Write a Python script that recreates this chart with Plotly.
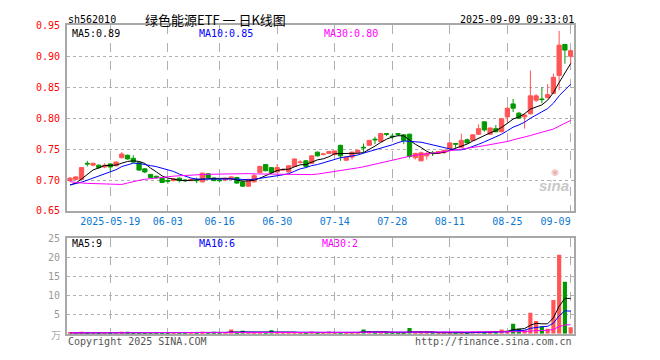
import plotly.graph_objects as go
import pandas as pd

# ---------------- data ----------------
dates = [
    "2025-05-08", "2025-05-09", "2025-05-12", "2025-05-13", "2025-05-14", "2025-05-15", "2025-05-16",
    "2025-05-19", "2025-05-20", "2025-05-21", "2025-05-22", "2025-05-23",
    "2025-05-26", "2025-05-27", "2025-05-28", "2025-05-29", "2025-05-30",
    "2025-06-03", "2025-06-04", "2025-06-05", "2025-06-06",
    "2025-06-09", "2025-06-10", "2025-06-11", "2025-06-12", "2025-06-13",
    "2025-06-16", "2025-06-17", "2025-06-18", "2025-06-19", "2025-06-20",
    "2025-06-23", "2025-06-24", "2025-06-25", "2025-06-26", "2025-06-27",
    "2025-06-30", "2025-07-01", "2025-07-02", "2025-07-03", "2025-07-04",
    "2025-07-07", "2025-07-08", "2025-07-09", "2025-07-10", "2025-07-11",
    "2025-07-14", "2025-07-15", "2025-07-16", "2025-07-17", "2025-07-18",
    "2025-07-21", "2025-07-22", "2025-07-23", "2025-07-24", "2025-07-25",
    "2025-07-28", "2025-07-29", "2025-07-30", "2025-07-31", "2025-08-01",
    "2025-08-04", "2025-08-05", "2025-08-06", "2025-08-07", "2025-08-08",
    "2025-08-11", "2025-08-12", "2025-08-13", "2025-08-14", "2025-08-15",
    "2025-08-18", "2025-08-19", "2025-08-20", "2025-08-21", "2025-08-22",
    "2025-08-25", "2025-08-26", "2025-08-27", "2025-08-28", "2025-08-29",
    "2025-09-01", "2025-09-02", "2025-09-03", "2025-09-04", "2025-09-05",
    "2025-09-08", "2025-09-09",
]

opens = [
    0.699, 0.701, 0.701, 0.727, 0.724, 0.724, 0.721, 0.726, 0.723, 0.736,
    0.740, 0.735, 0.728, 0.718, 0.709, 0.706, 0.703, 0.699, 0.699, 0.703,
    0.700, 0.699, 0.700, 0.697, 0.710, 0.703, 0.700, 0.700, 0.702, 0.704,
    0.697, 0.690, 0.697, 0.712, 0.725, 0.720, 0.713, 0.716, 0.713, 0.722,
    0.728, 0.731, 0.727, 0.745, 0.741, 0.743, 0.741, 0.756, 0.732, 0.737,
    0.744, 0.753, 0.756, 0.766, 0.762, 0.775, 0.771, 0.775, 0.773, 0.774,
    0.736, 0.731, 0.739, 0.744, 0.743, 0.744, 0.750, 0.759, 0.753, 0.765,
    0.764, 0.774, 0.794, 0.774, 0.783, 0.778, 0.802, 0.823, 0.808, 0.802,
    0.807, 0.829, 0.831, 0.833, 0.840, 0.869, 0.919, 0.900,
]
highs = [
    0.705, 0.706, 0.721, 0.731, 0.728, 0.725, 0.727, 0.727, 0.730, 0.745,
    0.741, 0.740, 0.729, 0.719, 0.710, 0.707, 0.704, 0.702, 0.703, 0.704,
    0.701, 0.702, 0.704, 0.712, 0.711, 0.704, 0.701, 0.703, 0.706, 0.705,
    0.698, 0.702, 0.710, 0.723, 0.726, 0.721, 0.726, 0.719, 0.724, 0.735,
    0.732, 0.732, 0.740, 0.746, 0.744, 0.747, 0.748, 0.757, 0.738, 0.746,
    0.749, 0.759, 0.765, 0.770, 0.776, 0.776, 0.775, 0.776, 0.774, 0.775,
    0.744, 0.746, 0.745, 0.747, 0.747, 0.749, 0.761, 0.759, 0.775, 0.767,
    0.774, 0.790, 0.795, 0.785, 0.789, 0.800, 0.819, 0.831, 0.810, 0.808,
    0.877, 0.839, 0.850, 0.855, 0.872, 0.941, 0.920, 0.911,
]
lows = [
    0.697, 0.700, 0.700, 0.722, 0.722, 0.718, 0.719, 0.714, 0.722, 0.735,
    0.733, 0.728, 0.715, 0.711, 0.703, 0.702, 0.695, 0.694, 0.698, 0.696,
    0.697, 0.698, 0.695, 0.696, 0.703, 0.698, 0.696, 0.698, 0.701, 0.694,
    0.689, 0.689, 0.696, 0.711, 0.714, 0.710, 0.712, 0.715, 0.712, 0.721,
    0.727, 0.721, 0.726, 0.738, 0.740, 0.742, 0.740, 0.731, 0.731, 0.733,
    0.743, 0.744, 0.755, 0.758, 0.761, 0.771, 0.766, 0.771, 0.758, 0.735,
    0.733, 0.730, 0.733, 0.739, 0.742, 0.743, 0.749, 0.752, 0.752, 0.759,
    0.763, 0.773, 0.778, 0.773, 0.777, 0.777, 0.793, 0.810, 0.799, 0.783,
    0.806, 0.826, 0.824, 0.832, 0.839, 0.845, 0.888, 0.887,
]
closes = [
    0.703, 0.705, 0.720, 0.726, 0.727, 0.720, 0.724, 0.721, 0.729, 0.742,
    0.734, 0.729, 0.716, 0.713, 0.704, 0.704, 0.696, 0.698, 0.702, 0.699,
    0.699, 0.701, 0.699, 0.711, 0.704, 0.699, 0.699, 0.702, 0.705, 0.695,
    0.690, 0.701, 0.707, 0.722, 0.715, 0.712, 0.720, 0.717, 0.723, 0.734,
    0.729, 0.722, 0.739, 0.739, 0.742, 0.746, 0.747, 0.739, 0.737, 0.745,
    0.748, 0.752, 0.764, 0.765, 0.775, 0.774, 0.770, 0.774, 0.764, 0.738,
    0.743, 0.744, 0.743, 0.743, 0.746, 0.748, 0.760, 0.758, 0.764, 0.760,
    0.773, 0.783, 0.781, 0.784, 0.778, 0.799, 0.816, 0.816, 0.800, 0.805,
    0.836, 0.836, 0.830, 0.838, 0.866, 0.918, 0.910, 0.909,
]
# volume, 万
volumes = [
    0.2, 0.2, 0.5, 0.2, 0.2, 0.2, 0.2, 0.2, 0.2, 0.5,
    0.5, 0.2, 0.3, 0.2, 0.2, 0.2, 0.2, 0.2, 0.2, 0.2,
    0.2, 0.2, 0.2, 0.5, 0.2, 0.5, 0.2, 0.2, 1.1, 0.3,
    0.8, 0.3, 0.3, 0.3, 0.3, 0.9, 0.3, 0.2, 0.3, 0.3,
    0.2, 0.3, 0.6, 0.3, 0.2, 0.6, 0.3, 0.4, 0.2, 0.3,
    0.3, 1.1, 0.6, 0.3, 0.3, 0.2, 0.2, 0.2, 0.3, 1.5,
    0.3, 0.3, 0.2, 0.2, 0.2, 0.2, 0.3, 0.2, 0.3, 0.2,
    0.6, 0.6, 0.3, 0.3, 0.6, 1.1, 0.8, 2.6, 1.3, 0.9,
    5.5, 3.3, 1.9, 1.3, 8.8, 20.6, 13.6, 1.7,
]
# estimated sessions before the visible window (used only to warm up the moving averages)
prior_closes = [
    0.745, 0.742, 0.744, 0.740, 0.738, 0.741, 0.736, 0.733, 0.728,
    0.665, 0.655, 0.660, 0.662, 0.668, 0.667, 0.672, 0.671, 0.675, 0.678, 0.677,
    0.688, 0.692, 0.694, 0.693, 0.693, 0.690, 0.687, 0.689, 0.691,
]
prior_volumes = [
    0.3, 0.3, 0.2, 0.3, 0.2, 0.2, 0.3, 0.2, 0.2, 0.4,
    0.3, 0.3, 0.2, 0.2, 0.2, 0.3, 0.2, 0.2, 0.2, 0.2,
    0.2, 0.3, 0.2, 0.2, 0.2, 0.2, 0.2, 0.3, 0.2,
]
tick_dates = ["2025-05-19", "2025-06-03", "2025-06-16", "2025-06-30", "2025-07-14",
              "2025-07-28", "2025-08-11", "2025-08-25", "2025-09-09"]
tick_labels = ["2025-05-19", "06-03", "06-16", "06-30", "07-14",
               "07-28", "08-11", "08-25", "09-09\u00a0\u00a0\u00a0\u00a0\u00a0"]
price_ticks = [0.65, 0.70, 0.75, 0.80, 0.85, 0.90, 0.95]
vol_ticks = [5, 10, 15, 20, 25]

# ---------------- derived ----------------
n_prior = len(prior_closes)
cs = pd.Series(prior_closes + closes)
vs = pd.Series(prior_volumes + volumes)
ma5 = cs.rolling(5).mean().iloc[n_prior:].tolist()
ma10 = cs.rolling(10).mean().iloc[n_prior:].tolist()
ma30 = cs.rolling(30).mean().iloc[n_prior:].tolist()
vma5 = vs.rolling(5).mean().iloc[n_prior:].tolist()
vma10 = vs.rolling(10).mean().iloc[n_prior:].tolist()
vma30 = vs.rolling(30).mean().iloc[n_prior:].tolist()

RED = "#ff5555"
GREEN = "#009a00"
BLUE_T = "#0a78d2"
MONO = "DejaVu Sans Mono"
W, H = 660, 360

def px(x):
    return x / W

def py(y):
    return 1 - y / H

vol_colors = [RED if c >= o else GREEN for o, c in zip(opens, closes)]

fig = go.Figure()
fig.add_trace(go.Candlestick(
    x=dates, open=opens, high=highs, low=lows, close=closes,
    increasing=dict(line=dict(color=RED, width=1), fillcolor=RED),
    decreasing=dict(line=dict(color=GREEN, width=1), fillcolor=GREEN),
    whiskerwidth=0, xaxis="x", yaxis="y", showlegend=False, hoverinfo="skip",
))
for vals, col in [(ma5, "#000000"), (ma10, "#0000ff"), (ma30, "#ff00ff")]:
    fig.add_trace(go.Scatter(x=dates, y=vals, mode="lines", line=dict(color=col, width=1),
                             xaxis="x", yaxis="y", showlegend=False, hoverinfo="skip"))

fig.add_trace(go.Bar(x=dates, y=volumes, marker=dict(color=vol_colors, line=dict(width=0)),
                     width=0.72, xaxis="x2", yaxis="y2", showlegend=False, hoverinfo="skip"))
for vals, col in [(vma5, "#000000"), (vma10, "#0000ff"), (vma30, "#ff00ff")]:
    fig.add_trace(go.Scatter(x=dates, y=vals, mode="lines", line=dict(color=col, width=1),
                             xaxis="x2", yaxis="y2", showlegend=False, hoverinfo="skip"))

xrange = [-0.5, len(dates) - 0.5]
frame = dict(showline=True, mirror=True, linecolor="#a8a8a8", linewidth=2, zeroline=False)
xdom = [px(70), px(598)]

fig.update_layout(
    width=W, height=H, autosize=False,
    margin=dict(l=0, r=0, t=0, b=0),
    paper_bgcolor="white", plot_bgcolor="white",
    boxgap=0.22, boxgroupgap=0.05,
    xaxis=dict(domain=xdom, type="category", range=xrange, anchor="y",
               tickmode="array", tickvals=tick_dates, ticktext=tick_labels,
               showgrid=True, gridcolor="#b0b0b0", griddash="dash", gridwidth=1,
               ticks="", tickfont=dict(family=MONO, size=10, color=BLUE_T),
               rangeslider=dict(visible=False), **frame),
    yaxis=dict(domain=[py(212), py(20)], range=[0.65, 0.95], anchor="x",
               tickmode="array", tickvals=price_ticks,
               ticktext=[f"{v:.2f}" for v in price_ticks],
               showgrid=True, gridcolor="#b0b0b0", griddash="dot", gridwidth=1,
               ticks="", ticklabelstandoff=3,
               tickfont=dict(family=MONO, size=10, color="#ff0000"), **frame),
    xaxis2=dict(domain=xdom, type="category", range=xrange, anchor="y2",
                tickmode="array", tickvals=tick_dates, showticklabels=False,
                showgrid=True, gridcolor="#b0b0b0", griddash="dash", gridwidth=1,
                ticks="", **frame),
    yaxis2=dict(domain=[py(339), py(240)], range=[0, 25], anchor="x2",
                tickmode="array", tickvals=vol_ticks,
                ticktext=[str(v) for v in vol_ticks],
                showgrid=True, gridcolor="#b0b0b0", griddash="dot", gridwidth=1,
                ticks="", ticklabelstandoff=3,
                tickfont=dict(family=MONO, size=10, color="#999999"), **frame),
)

ann = []
def text(x, y, s, color="#000000", size=10, anchor="left", family=MONO):
    ann.append(dict(x=px(x), y=py(y), xref="paper", yref="paper", text=s, showarrow=False,
                    xanchor=anchor, yanchor="middle",
                    font=dict(family=family, size=size, color=color)))

text(69, 14, "sh562010")
text(225, 14, "绿色能源ETF 一 日K线图", size=13, anchor="center", family="Noto Sans CJK SC")
text(601, 14, "2025-09-09 09:33:01", anchor="right")
text(73, 28, f"MA5:{ma5[-1]:.2f}", color="#000000")
text(205, 28, f"MA10:{ma10[-1]:.2f}", color="#0000ff")
text(336, 28, f"MA30:{ma30[-1]:.2f}", color="#ff00ff")
text(73, 246, f"MA5:{vma5[-1]:.0f}", color="#000000")
text(205, 246, f"MA10:{vma10[-1]:.0f}", color="#0000ff")
text(334, 246, f"MA30:{vma30[-1]:.0f}", color="#ff00ff")
text(66, 340, "万", color="#aaaaaa", anchor="right", family="Noto Sans CJK SC")
text(69, 347, "Copyright 2025 SINA.COM", color="#555555")
text(598, 347, "http://finance.sina.com.cn", color="#555555", anchor="right")
text(578, 186, "<b><i>sina</i></b>", color="#c8c8c8", size=15, anchor="center", family="Arial")
text(579, 172, "◉", color="#e8b0b0", size=9, anchor="center", family="DejaVu Sans")
fig.update_layout(annotations=ann)

fig.write_html(
    "out.html",
    config={"displayModeBar": False},
    post_script="document.body.style.margin='0';document.body.style.padding='0';"
                "document.documentElement.style.overflow='hidden';",
)
